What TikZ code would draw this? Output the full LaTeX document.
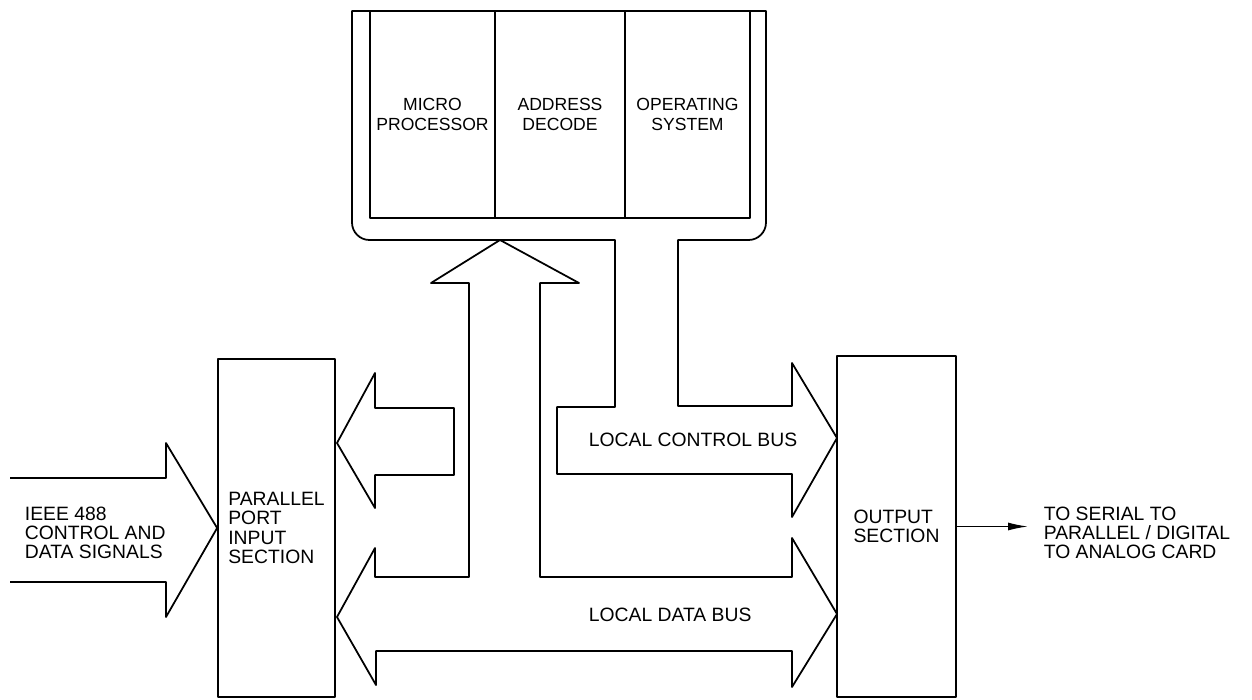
\documentclass[tikz,border=0pt]{standalone}
\usepackage{fontspec}
\setmainfont{Liberation Sans}
\usetikzlibrary{arrows.meta}

\begin{document}
\begin{tikzpicture}[x=0.02cm, y=-0.02cm, line width=1pt, line join=round,
		font=\fontsize{10}{11}\selectfont,
		cell/.style={draw, inner sep=0pt, align=center, minimum width=#1, minimum height=4.14cm},
		unit/.style={draw, inner sep=2pt, align=left, font=\fontsize{11}{11}\selectfont},
		lbl/.style={anchor=west, align=left, inner sep=0pt, font=\fontsize{11}{11}\selectfont},
		sig/.style={-{Latex[length=0.4cm, width=0.16cm]}, line width=0.8pt}]
			\useasboundingbox (0,0) rectangle (1252,700);
			\node[cell=2.5cm] (mpu) at (432.5,114.5) {MICRO\\PROCESSOR};
			\node[cell=2.6cm] (adec) at (560,114.5) {ADDRESS\\DECODE};
			\node[cell=2.5cm] (opsys) at (687.5,114.5) {OPERATING\\SYSTEM};
			\draw (615,240) -- (615,407) -- (557,407) -- (557,474) -- (792,474) -- (792,517)
			-- (837,438) -- (792,363) -- (792,406) -- (678,406) -- (678,240) -- (720,240)
			[rounded corners=0.35cm] -- (766,240) -- (766,120)
			[sharp corners] -- (766,11) -- (352,11) -- (352,120)
			[rounded corners=0.35cm] -- (352,240) -- (420,240)
			[sharp corners] -- cycle;
			\draw (337,617) -- (375,548) -- (375,577) -- (469,577) -- (469,283) -- (431,283)
			-- (500,240) -- (579,283) -- (540,283) -- (540,577) -- (792,577) -- (792,538)
			-- (837,614) -- (792,687) -- (792,651) -- (376,651) -- (376,685) -- cycle;
			\draw (454,408) -- (375,408) -- (375,373) -- (337,443) -- (375,508) -- (375,475)
			-- (454,475) -- cycle;
			\node[unit, minimum width=2.34cm, minimum height=6.76cm] (ppi) at (276.5,528)
			{PARALLEL\\PORT\\INPUT\\SECTION};
			\node[unit, minimum width=2.38cm, minimum height=6.82cm] (outsec) at (896.5,526.5)
			{OUTPUT\\SECTION};
			\draw (10,478) -- (166,478) -- (166,443) -- (ppi.west) -- (166,617) -- (166,582)
			-- (10,582);
			\node[lbl] (ieee) at (24,533) {IEEE 488\\CONTROL AND\\DATA SIGNALS};
			\node[lbl] (ctlbus) at (588,440) {LOCAL CONTROL BUS};
			\node[lbl] (datbus) at (588,615) {LOCAL DATA BUS};
			\node[lbl] (dest) at (1043,533) {TO SERIAL TO\\PARALLEL / DIGITAL\\TO ANALOG CARD};
			\draw[sig, shorten >=0.3cm] (outsec.east) -- (outsec.east -| dest.west);
		\end{tikzpicture}
\end{document}
